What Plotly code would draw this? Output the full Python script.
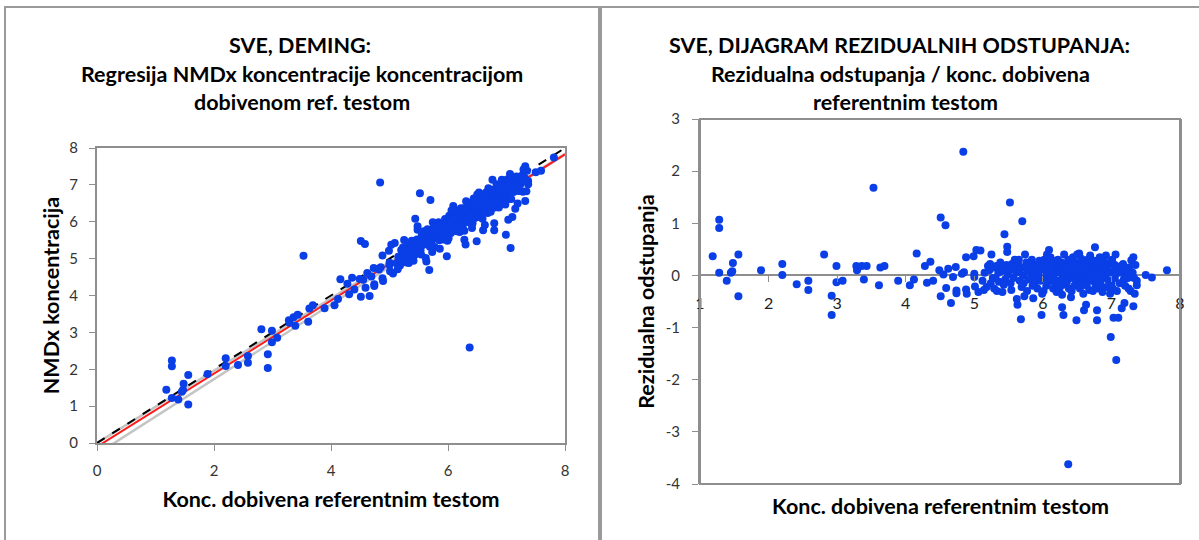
import plotly.graph_objects as go

W, H = 1199, 540

# ---- data: reference concentration and residual (NMDx - Deming fit)
REF_CONC = [
    1.185, 1.28, 1.28, 1.28, 1.39, 1.45, 1.47, 1.48, 1.56, 1.56, 1.89, 2.20, 2.20, 2.41, 2.58, 2.58,
    2.81, 2.92, 2.92, 2.99, 2.99, 3.08, 3.28, 3.29, 3.36, 3.43, 3.39, 3.53, 3.61, 3.63, 3.69, 3.89,
    4.06, 4.12, 4.16, 4.28, 4.31, 4.36, 4.40, 4.49, 4.51, 4.51, 4.55, 4.58, 4.59, 4.62, 4.66, 4.69,
    4.73, 4.74, 4.74, 4.82, 4.84, 4.85, 4.88, 4.88, 4.89, 4.99, 5.00, 5.00, 5.01, 5.03, 5.09, 5.06,
    5.12, 5.15, 5.18, 5.20, 5.14,
    5.22, 5.25, 5.27, 5.28, 5.24, 5.29, 5.23,
    5.32, 5.35, 5.36, 5.38, 5.33, 5.39, 5.31,
    5.41, 5.44, 5.48, 5.48, 5.42, 5.45, 5.47, 5.43, 5.49,
    5.52, 5.51, 5.53, 5.55, 5.57, 5.58, 5.54, 5.59,
    5.62, 5.63, 5.68, 5.61, 5.64, 5.66, 5.67, 5.69, 5.65, 5.70,
    5.74, 5.71, 5.72, 5.75, 5.77, 5.78, 5.76, 5.79, 5.73,
    5.81, 5.83, 5.84, 5.86, 5.85, 5.87, 5.88, 5.89, 5.82,
    5.91, 5.92, 5.94, 5.95, 5.96, 5.98, 5.97, 5.99, 5.93, 6.00,
    6.02, 6.03, 6.04, 6.05, 6.06, 6.07, 6.08, 6.09, 6.10, 6.01, 6.05,
    6.11, 6.12, 6.13, 6.14, 6.15, 6.16, 6.17, 6.18, 6.19, 6.15, 6.12, 6.20,
    6.21, 6.22, 6.23, 6.24, 6.25, 6.26, 6.27, 6.28, 6.28, 6.29, 6.30, 6.30, 6.24,
    6.31, 6.32, 6.33, 6.34, 6.35, 6.36, 6.37, 6.37, 6.38, 6.39, 6.35, 6.33, 6.40,
    6.41, 6.42, 6.43, 6.44, 6.45, 6.46, 6.47, 6.48, 6.49, 6.49, 6.44, 6.42, 6.50,
    6.51, 6.52, 6.53, 6.54, 6.55, 6.56, 6.57, 6.58, 6.59, 6.60, 6.55, 6.53, 6.58,
    6.61, 6.62, 6.63, 6.64, 6.65, 6.66, 6.67, 6.68, 6.69, 6.70, 6.64, 6.67, 6.62,
    6.71, 6.72, 6.73, 6.74, 6.75, 6.76, 6.77, 6.78, 6.79, 6.79, 6.79, 6.73, 6.80,
    6.81, 6.82, 6.83, 6.84, 6.85, 6.86, 6.87, 6.88, 6.89, 6.84, 6.90,
    6.91, 6.92, 6.93, 6.94, 6.95, 6.96, 6.97, 6.98, 6.99, 6.99, 7.00,
    7.01, 7.02, 7.03, 7.04, 7.05, 7.06, 7.07, 7.08, 7.09, 7.10, 7.10, 7.05,
    7.12, 7.14, 7.15, 7.16, 7.18, 7.19, 7.17, 7.20,
    7.22, 7.24, 7.25, 7.27, 7.29, 7.28, 7.26,
    7.32, 7.32, 7.34, 7.37, 7.37, 7.31, 7.33, 7.35,
    7.50, 7.59, 7.81,
]
RESIDUAL = [
    0.37, 1.07, 0.91, 0.05, -0.10, 0.05, 0.08, 0.24, 0.40, -0.40, 0.10, 0.22, 0.01, -0.17, -0.10, -0.28,
    0.40, -0.39, -0.76, 0.18, -0.13, -0.10, 0.18, 0.10, 0.18, 0.18, -0.08, 1.68, -0.19, 0.15, 0.18, -0.10,
    -0.19, -0.08, 0.42, 0.18, -0.14, 0.26, -0.10, 0.10, 1.11, -0.40, 0.02, 0.96, -0.24, 0.13, -0.53, -0.03,
    0.16, -0.29, -0.34, 0.03, 2.37, 0.06, 0.35, -0.27, -0.35, 0.37, 0.03, -0.03, -0.21, 0.49, 0.48, -0.32,
    -0.10, 0.05, -0.22, 0.18, -0.28,
    0.10, 0.40, -0.05, 0.15, -0.15, -0.25, 0.22,
    0.18, 0.05, -0.12, 0.25, -0.30, 0.08, -0.05,
    -0.32, 0.79, 0.55, 0.45, 0.12, -0.08, 0.20, -0.18, 0.02,
    1.40, 0.10, -0.15, 0.22, -0.05, 0.15, -0.28, 0.30,
    -0.45, -0.56, -0.84, 0.05, 0.20, -0.10, 0.12, -0.22, 0.30, 1.04,
    0.40, 0.00, -0.15, 0.18, -0.30, 0.08, 0.25, -0.08, -0.40,
    0.12, -0.05, 0.30, -0.44, -0.20, 0.05, 0.20, -0.12, 0.22,
    0.18, -0.25, 0.05, 0.28, -0.10, -0.76, 0.12, -0.35, 0.00, 0.20,
    0.30, -0.05, 0.15, -0.20, 0.40, 0.05, -0.12, 0.49, 0.22, -0.30, 0.08,
    0.35, -0.08, 0.18, 0.02, -0.25, 0.28, 0.10, -0.15, 0.22, -0.02, 0.12, -0.32,
    0.05, 0.30, -0.10, 0.15, -0.22, 0.08, 0.25, -0.37, -0.61, -0.05, -0.76, 0.12, -0.30,
    0.40, 0.02, -0.18, 0.20, 0.10, -0.08, -3.62, 0.30, -0.25, 0.05, -0.12, 0.15, -0.02,
    -0.42, 0.18, -0.05, 0.35, 0.08, -0.20, 0.25, 0.00, -0.86, -0.15, 0.12, -0.30, 0.40,
    0.10, -0.08, 0.22, -0.25, 0.05, 0.32, -0.12, 0.15, -0.35, -0.67, -0.02, 0.42, 0.00,
    0.20, -0.15, -0.56, 0.05, 0.30, -0.05, 0.12, -0.28, 0.38, 0.00, -0.20, 0.25, 0.10,
    -0.10, 0.18, -0.30, 0.08, 0.28, 0.54, -0.18, 0.02, -0.67, -0.86, 0.15, -0.05, -0.25,
    0.22, -0.08, 0.35, 0.05, -0.20, 0.15, -0.32, 0.00, 0.28, -0.12, 0.10,
    -0.05, 0.38, 0.12, -0.22, 0.20, -0.10, 0.05, -0.35, -1.18, 0.25, -0.15,
    0.30, -0.25, -0.81, 0.10, -0.05, 0.40, -1.62, -0.30, 0.15, -0.81, 0.05, 0.20,
    -0.15, 0.18, -0.63, 0.05, -0.08, -0.53, 0.22, -0.20,
    0.10, -0.05, -0.25, 0.02, 0.29, -0.30, 0.15,
    0.35, -0.59, -0.35, -0.19, -0.10, 0.05, -0.05, 0.20,
    0.01, -0.04, 0.10,
]

# Deming regression line and confidence limits (intercept, slope)
DEMING_INTERCEPT, DEMING_SLOPE = -0.10, 0.991
CI_LOWER = (-0.30, 1.015)
CI_UPPER = (0.00, 0.980)
LEFT_RANGE = [0, 8]
RIGHT_X_RANGE = [1, 8]
RIGHT_Y_RANGE = [-4, 3]
RIGHT_Y_TICKS = [-4, -3, -2, -1, 0, 1, 2, 3]

NMDX_CONC = [DEMING_INTERCEPT + DEMING_SLOPE * x + r for x, r in zip(REF_CONC, RESIDUAL)]

def fx(px):
    return px / W

def fy(py):
    return 1 - py / H

BLUE = "#0a3ee6"
AX = "#8e8e8e"
FONT = "Lato"
TICKFONT = dict(family=FONT, size=15, color="#333333")
TITLE_FONT = dict(family=FONT, size=21.5, color="black")

fig = go.Figure()

def line_y(ic, sl):
    return [ic + sl * x for x in LEFT_RANGE]

fig.add_trace(go.Scatter(x=LEFT_RANGE, y=line_y(*CI_LOWER), mode="lines",
                         line=dict(color="#c4c4c4", width=2.5), hoverinfo="skip", showlegend=False))
fig.add_trace(go.Scatter(x=LEFT_RANGE, y=line_y(*CI_UPPER), mode="lines",
                         line=dict(color="#c4c4c4", width=2.5), hoverinfo="skip", showlegend=False))
fig.add_trace(go.Scatter(x=LEFT_RANGE, y=line_y(DEMING_INTERCEPT, DEMING_SLOPE), mode="lines",
                         line=dict(color="#ff1a1a", width=2), showlegend=False))
fig.add_trace(go.Scatter(x=LEFT_RANGE, y=LEFT_RANGE, mode="lines",
                         line=dict(color="black", width=2, dash="dash"), showlegend=False))
fig.add_trace(go.Scatter(x=REF_CONC, y=NMDX_CONC, mode="markers",
                         marker=dict(color=BLUE, size=8), showlegend=False))
fig.add_trace(go.Scatter(x=REF_CONC, y=RESIDUAL, mode="markers", xaxis="x2", yaxis="y2",
                         marker=dict(color=BLUE, size=8), showlegend=False))

ydom2 = [fy(484), fy(119)]
zero_pos = ydom2[0] + (0 - RIGHT_Y_RANGE[0]) / (RIGHT_Y_RANGE[1] - RIGHT_Y_RANGE[0]) * (ydom2[1] - ydom2[0])

axis_common = dict(showgrid=False, zeroline=False, showline=True, linecolor=AX, linewidth=2,
                   mirror=True, tickcolor=AX, tickfont=TICKFONT, automargin=False)

fig.update_layout(
    width=W, height=H, margin=dict(l=0, r=0, t=0, b=0, autoexpand=False),
    paper_bgcolor="white", plot_bgcolor="white", showlegend=False,
    xaxis=dict(domain=[fx(97), fx(565)], range=LEFT_RANGE, dtick=2, ticks="outside", ticklen=6,
               ticklabelstandoff=7, anchor="y",
               title=dict(text="<b>Konc. dobivena referentnim testom</b>", font=TITLE_FONT, standoff=14),
               **axis_common),
    yaxis=dict(domain=[fy(443), fy(148)], range=LEFT_RANGE, dtick=1, ticks="outside", ticklen=6,
               ticklabelstandoff=8, anchor="x",
               title=dict(text="<b>NMDx koncentracija</b>", font=TITLE_FONT, standoff=4),
               **axis_common),
    xaxis2=dict(domain=[fx(700), fx(1180)], range=RIGHT_X_RANGE, dtick=1, anchor="free",
                position=zero_pos, ticks="outside", ticklen=6, ticklabelstandoff=7, tickcolor=AX,
                showline=False, showgrid=False, zeroline=False,
                tickfont=dict(family=FONT, size=16, color="#222222"), automargin=False),
    yaxis2=dict(domain=ydom2, range=RIGHT_Y_RANGE, tickvals=RIGHT_Y_TICKS,
                ticktext=[str(v) for v in RIGHT_Y_TICKS], ticks="outside", ticklen=6,
                ticklabelstandoff=9, anchor="x2",
                title=dict(text="<b>Rezidualna odstupanja</b>", font=TITLE_FONT, standoff=5),
                showgrid=False, showline=True, linecolor=AX, linewidth=2, mirror=True,
                tickcolor=AX, tickfont=TICKFONT, automargin=False,
                zeroline=True, zerolinecolor=AX, zerolinewidth=2),
)

# frame of the residual plot
fig.add_shape(type="rect", xref="x2 domain", yref="y2 domain", x0=0, x1=1, y0=0, y1=1,
              line=dict(color=AX, width=2))

# panel borders
for x0, x1 in [(5, 599), (601, 1215)]:
    fig.add_shape(type="rect", xref="paper", yref="paper", x0=fx(x0), x1=fx(x1), y0=-0.1, y1=fy(7),
                  line=dict(color="#9a9a9a", width=2), layer="below")

TITLES = [
    (300, 45, "SVE, DEMING:"),
    (302, 74, "Regresija NMDx koncentracije koncentracijom"),
    (302, 102, "dobivenom ref. testom"),
    (899, 45, "SVE, DIJAGRAM REZIDUALNIH ODSTUPANJA:"),
    (900, 74, "Rezidualna odstupanja / konc. dobivena"),
    (905, 102, "referentnim testom"),
    (940, 506, "Konc. dobivena referentnim testom"),
]
for px, py, txt in TITLES:
    fig.add_annotation(x=fx(px), y=fy(py), xref="paper", yref="paper", text=f"<b>{txt}</b>",
                       showarrow=False, xanchor="center", yanchor="middle", font=TITLE_FONT)

fig.write_html("out.html")
